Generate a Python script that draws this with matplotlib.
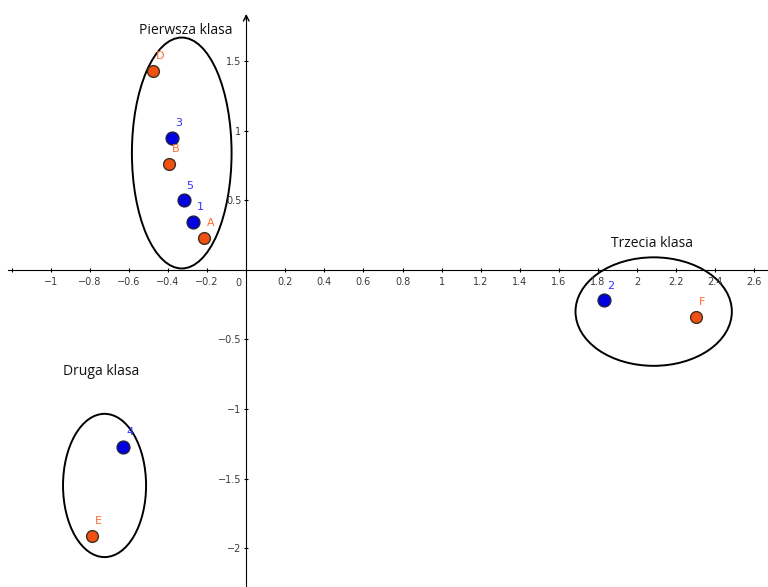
import matplotlib.pyplot as plt
from matplotlib.patches import Ellipse
import numpy as np

# points (x, y)
blue_names = ["1", "2", "3", "4", "5"]
blue_x = [-0.27, 1.83, -0.38, -0.63, -0.32]
blue_y = [0.345, -0.22, 0.95, -1.27, 0.50]

orange_names = ["A", "B", "D", "E", "F"]
orange_x = [-0.215, -0.395, -0.475, -0.79, 2.30]
orange_y = [0.23, 0.76, 1.43, -1.91, -0.34]

# groups: name, centre, width, height, label position
group_names = ["Pierwsza klasa", "Druga klasa", "Trzecia klasa"]
group_cx = [-0.33, -0.725, 2.085]
group_cy = [0.84, -1.55, -0.30]
group_w = [0.51, 0.425, 0.80]
group_h = [1.66, 1.03, 0.78]
label_x = [-0.31, -0.745, 2.075]
label_y = [1.72, -0.73, 0.19]

fig = plt.figure(figsize=(7.68, 5.87), dpi=100)
ax = fig.add_axes([0, 0, 1, 1])
ax.set_xlim(-1.26, 2.67)
ax.set_ylim(-2.28, 1.94)

# axes through the origin, GeoGebra style
ax.spines['top'].set_visible(False)
ax.spines['right'].set_visible(False)
ax.spines['left'].set_position(('data', 0))
ax.spines['bottom'].set_position(('data', 0))
ax.spines['left'].set_bounds(-2.28, 1.82)
ax.spines['bottom'].set_bounds(-1.22, 2.67)
ax.annotate('', xy=(0, 1.86), xytext=(0, 1.78),
            arrowprops=dict(arrowstyle='->', lw=1, color='black'))

xt = np.round(np.arange(-1.2, 2.61, 0.2), 1)
ax.set_xticks(xt)
ax.set_xticklabels(['' if v in (0, -1.2) else ('%g' % v).replace('-', '\u2212') for v in xt])
yt = [-2, -1.5, -1, -0.5, 0.5, 1, 1.5]
ax.set_yticks(yt)
ax.set_yticklabels([('%g' % v).replace('-', '\u2212') for v in yt])
ax.tick_params(axis='both', labelsize=7, labelcolor='#3a3a3a', length=3, width=0.8)
ax.tick_params(axis='x', pad=4, direction='inout')
ax.tick_params(axis='y', pad=2, direction='inout')
ax.text(-0.025, -0.06, '0', fontsize=7, color='#3a3a3a', ha='right', va='top')

for cx, cy, w, h, name, lx, ly in zip(group_cx, group_cy, group_w, group_h,
                                      group_names, label_x, label_y):
    ax.add_patch(Ellipse((cx, cy), w, h, fill=False, ec='black', lw=1.4))
    ax.text(lx, ly, name, fontsize=10, family='Open Sans', ha='center',
            va='center', color='#111111')

ax.scatter(blue_x, blue_y, s=85, c='#0000e0', edgecolors='#202040',
           linewidths=1, zorder=3)
ax.scatter(orange_x, orange_y, s=72, c='#f05010', edgecolors='#403020',
           linewidths=1, zorder=3)
for x, y, t in zip(blue_x, blue_y, blue_names):
    ax.text(x + 0.015, y + 0.07, t, fontsize=8, color='#3030ff', va='bottom')
for x, y, t in zip(orange_x, orange_y, orange_names):
    ax.text(x + 0.015, y + 0.07, t, fontsize=8, color='#ff6a30', va='bottom')

fig.savefig('out.png', dpi=100)
